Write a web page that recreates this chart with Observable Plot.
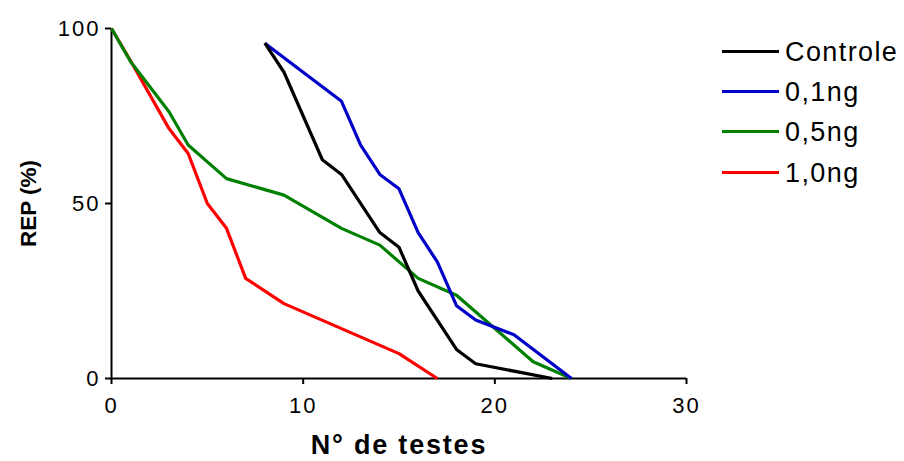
<!DOCTYPE html>
<html>
<head>
<meta charset="utf-8">
<script src="https://cdn.jsdelivr.net/npm/d3@7"></script>
<script src="https://cdn.jsdelivr.net/npm/@observablehq/plot@0.6"></script>
<style>
  html, body { margin: 0; padding: 0; background: #fff; }
  #wrap { position: relative; width: 904px; height: 461px; font-family: "Liberation Sans", Arial, sans-serif; }
  #wrap svg text { font-family: "Liberation Sans", Arial, sans-serif; }
  g[aria-label="x-axis tick label"] text, g[aria-label="y-axis tick label"] text { letter-spacing: 2px; }
  .xtitle text { letter-spacing: 1.8px; }
  #legend { position: absolute; left: 722px; top: 31px; }
  #legend .row { display: flex; align-items: center; height: 40.3px; }
  #legend .sw { width: 57px; height: 3px; margin-right: 6px; }
  #legend .lb { font-size: 27px; letter-spacing: 1.4px; line-height: 1; color: #000; position: relative; top: 1px; }
</style>
</head>
<body>
<div id="wrap"></div>
<script>
const seriesNames = ["Controle", "0,1ng", "0,5ng", "1,0ng"];
const seriesColors = ["#000000", "#0000c8", "#008000", "#ff0000"];

const controleX = [8, 9, 11, 12, 14, 15, 16, 18, 19, 23];
const controleY = [95.8, 87.5, 62.5, 58.3, 41.7, 37.5, 25, 8.3, 4.2, 0];

const ng01X = [8, 12, 13, 14, 15, 16, 17, 18, 19, 21, 24];
const ng01Y = [95.8, 79.2, 66.7, 58.3, 54.2, 41.7, 33.3, 20.8, 16.7, 12.5, 0];

const ng05X = [0, 1, 3, 4, 6, 9, 12, 14, 16, 18, 22, 24];
const ng05Y = [100, 90.5, 76.2, 66.7, 57.1, 52.4, 42.9, 38.1, 28.6, 23.8, 4.8, 0];

const ng10X = [0, 1, 3, 4, 5, 6, 7, 9, 15, 17];
const ng10Y = [100, 90.7, 71.4, 64.3, 50, 42.9, 28.6, 21.4, 7.1, 0];

const xTicks = [0, 10, 20, 30];
const yTicks = [0, 50, 100];
const xLabel = "N° de testes";
const yLabel = "REP (%)";

const seriesXs = [controleX, ng01X, ng05X, ng10X];
const seriesYs = [controleY, ng01Y, ng05Y, ng10Y];
const data = [];
seriesNames.forEach((name, i) => {
  seriesXs[i].forEach((x, j) => data.push({series: name, x, y: seriesYs[i][j]}));
});
const drawOrder = ["1,0ng", "0,5ng", "0,1ng", "Controle"];

const plot = Plot.plot({
  width: 904,
  height: 461,
  marginLeft: 111,
  marginRight: 218,
  marginTop: 28,
  marginBottom: 83,
  style: {fontFamily: "Liberation Sans, Arial, sans-serif", background: "#fff"},
  x: {domain: [0, 30]},
  y: {domain: [0, 100]},
  color: {domain: seriesNames, range: seriesColors},
  marks: [
    Plot.axisX({ticks: xTicks, tickSize: 6, tickPadding: 13, fontSize: 22, strokeWidth: 2, color: "#000", label: null, tickFormat: d => String(d)}),
    Plot.axisY({ticks: yTicks, tickSize: 6, tickPadding: 5, fontSize: 22, strokeWidth: 2, color: "#000", label: null, tickFormat: d => String(d)}),
    Plot.ruleY([0], {stroke: "#000", strokeWidth: 2}),
    Plot.ruleX([0], {stroke: "#000", strokeWidth: 2}),
    ...drawOrder.map(name => Plot.line(data.filter(d => d.series === name), {
      x: "x", y: "y", stroke: "series", strokeWidth: 3.2, strokeLinejoin: "miter", strokeLinecap: "butt"
    })),
    Plot.text([xLabel], {frameAnchor: "bottom", dy: 67, fontSize: 27, fontWeight: "bold", fill: "#000", lineAnchor: "middle", textAnchor: "middle", className: "xtitle"}),
    Plot.text([yLabel], {frameAnchor: "left", dx: -83, rotate: -90, fontSize: 22.5, fontWeight: "bold", fill: "#000", lineAnchor: "middle", textAnchor: "middle"})
  ]
});

const wrap = document.getElementById("wrap");
wrap.appendChild(plot);

const legend = document.createElement("div");
legend.id = "legend";
seriesNames.forEach((name, i) => {
  const row = document.createElement("div");
  row.className = "row";
  const sw = document.createElement("span");
  sw.className = "sw";
  sw.style.background = seriesColors[i];
  const lb = document.createElement("span");
  lb.className = "lb";
  lb.textContent = name;
  row.appendChild(sw);
  row.appendChild(lb);
  legend.appendChild(row);
});
wrap.appendChild(legend);
</script>
</body>
</html>
